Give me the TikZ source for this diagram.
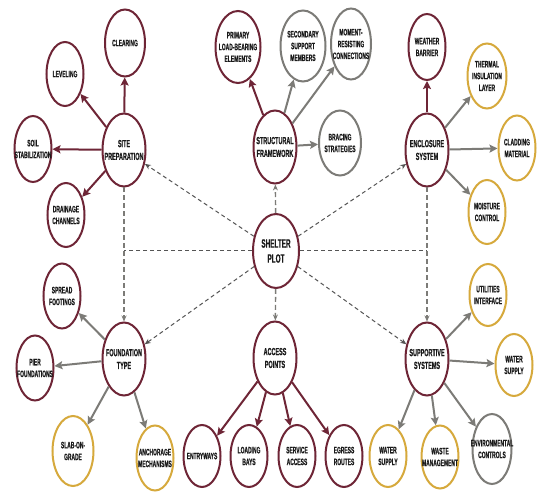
\documentclass[tikz,border=0pt]{standalone}
\usepackage{fontspec}
\setmainfont{Liberation Sans}[FakeStretch=0.53, BoldFeatures={FakeStretch=0.53, FakeBold=0.6}]
\usetikzlibrary{shapes.geometric,arrows.meta}
\definecolor{plum}{HTML}{6E2536}
\definecolor{sand}{HTML}{D6A93C}
\definecolor{ash}{HTML}{7C7B77}
\definecolor{ink}{HTML}{1A1A1A}
\definecolor{dashgray}{HTML}{555555}
\begin{document}
\begin{tikzpicture}[x=1pt, y=-1pt,
			bubble/.style={shape=ellipse, draw=plum, line width=2pt, fill=white, text=ink, align=center,
				inner xsep=-10pt, inner ysep=0pt, minimum width=37pt, minimum height=64pt,
				font=\bfseries\fontsize{9.3}{11.8}\selectfont},
			hub/.style={bubble, minimum width=43pt, minimum height=73pt, font=\bfseries\fontsize{10.3}{12.8}\selectfont},
			root/.style={hub, minimum width=46pt, minimum height=74pt, font=\bfseries\fontsize{12}{15}\selectfont},
			greyring/.style={draw=ash},
			goldring/.style={draw=sand},
			redarrow/.style={draw=plum, line width=2pt, -{Stealth[length=8pt,width=8pt,inset=1.5pt]}},
			greyarrow/.style={redarrow, draw=ash},
			link/.style={draw=dashgray, line width=1pt, dash pattern=on 4pt off 3pt, -{Stealth[length=6pt,width=5pt]}},
			vlink/.style={link, draw=ash, line width=1.4pt, dash pattern=on 5pt off 3pt}]
			
			\fill[white] (0,0) rectangle (550,500);
			\useasboundingbox (0,0) rectangle (550,500);
			
			% centre
			\node[root] (shelter) at (276,251) {SHELTER\\PLOT};
			
			% site preparation
			\node[hub] (site) at (124,150) {SITE\\PREPARATION};
			\node[bubble, minimum width=40pt, minimum height=67pt] (clearing) at (125,43) {CLEARING};
			\node[bubble] (leveling) at (65,74) {LEVELING};
			\node[bubble, minimum height=66pt] (soil) at (33,149) {SOIL\\STABILIZATION};
			\node[bubble] (drainage) at (66,215) {DRAINAGE\\CHANNELS};
			
			% structural framework
			\node[hub] (frame) at (275,147) {STRUCTURAL\\FRAMEWORK};
			\node[bubble, minimum width=45pt, minimum height=72pt] (primary) at (238,47) {PRIMARY\\LOAD-BEARING\\ELEMENTS};
			\node[bubble, greyring, minimum width=45pt, minimum height=71pt] (secondary) at (303,46) {SECONDARY\\SUPPORT\\MEMBERS};
			\node[bubble, greyring, minimum width=40pt, minimum height=71pt] (moment) at (351,44) {MOMENT-\\RESISTING\\CONNECTIONS};
			\node[bubble, greyring, minimum width=42pt, minimum height=65pt] (bracing) at (340,143) {BRACING\\STRATEGIES};
			
			% enclosure system
			\node[hub] (enclosure) at (427,150) {ENCLOSURE\\SYSTEM};
			\node[bubble, minimum height=66pt] (weather) at (427,47) {WEATHER\\BARRIER};
			\node[bubble, goldring, minimum width=39pt, minimum height=65pt] (thermal) at (487,76) {THERMAL\\INSULATION\\LAYER};
			\node[bubble, goldring, minimum height=65pt] (cladding) at (517,148) {CLADDING\\MATERIAL};
			\node[bubble, goldring] (moisture) at (487,212) {MOISTURE\\CONTROL};
			
			% foundation type
			\node[hub] (foundation) at (124,359) {FOUNDATION\\TYPE};
			\node[bubble, minimum height=65pt] (spread) at (62,296) {SPREAD\\FOOTINGS};
			\node[bubble, minimum height=65pt] (pier) at (35,368) {PIER\\FOUNDATIONS};
			\node[bubble, goldring, minimum width=41pt, minimum height=70pt] (slab) at (73,451) {SLAB-ON-\\GRADE};
			\node[bubble, goldring, minimum height=65pt] (anchorage) at (155,458) {ANCHORAGE\\MECHANISMS};
			
			% access points
			\node[hub] (access) at (275,358) {ACCESS\\POINTS};
			\node[bubble, minimum height=62pt] (entry) at (202,456) {ENTRYWAYS};
			\node[bubble, minimum height=62pt] (loading) at (249,456) {LOADING\\BAYS};
			\node[bubble, minimum height=62pt] (service) at (297,456) {SERVICE\\ACCESS};
			\node[bubble, minimum height=62pt] (egress) at (344,456) {EGRESS\\ROUTES};
			
			% supportive systems
			\node[hub] (support) at (427,359) {SUPPORTIVE\\SYSTEMS};
			\node[bubble, goldring, minimum height=62pt] (utilities) at (488,295) {UTILITIES\\INTERFACE};
			\node[bubble, goldring, minimum height=62pt] (waterright) at (514,365) {WATER\\SUPPLY};
			\node[bubble, goldring, minimum height=62pt] (waterbottom) at (388,456) {WATER\\SUPPLY};
			\node[bubble, goldring, minimum height=63pt] (waste) at (440,457) {WASTE\\MANAGEMENT};
			\node[bubble, greyring, minimum width=39pt, minimum height=70pt] (environ) at (492,449) {ENVIRONMENTAL\\CONTROLS};
			
			% dashed links from the centre
			\draw[link] (shelter) -- (site);
			\draw[link] (shelter) -- (enclosure);
			\draw[link] (shelter) -- (foundation);
			\draw[link] (shelter) -- (support);
			\draw[vlink] (shelter) -- (frame);
			\draw[vlink] (shelter) -- (access);
			\draw[vlink] (site) -- (foundation);
			\draw[vlink] (enclosure) -- (support);
			\coordinate (westjoin) at (site.south |- shelter.west);
			\coordinate (eastjoin) at (enclosure.south |- shelter.east);
			\draw[link, -] (shelter.west) -- (westjoin);
			\draw[link, -] (shelter.east) -- (eastjoin);
			
			% solid arrows
			\draw[redarrow] (site) -- (clearing);
			\draw[redarrow] (site) -- (leveling);
			\draw[redarrow] (site) -- (soil);
			\draw[redarrow] (site) -- (drainage);
			\draw[redarrow] (frame) -- (primary);
			\draw[greyarrow] (frame) -- (secondary);
			\draw[greyarrow] (frame) -- (moment);
			\draw[greyarrow] (frame) -- (bracing);
			\draw[redarrow] (enclosure) -- (weather);
			\draw[greyarrow] (enclosure) -- (thermal);
			\draw[greyarrow] (enclosure) -- (cladding);
			\draw[greyarrow] (enclosure) -- (moisture);
			\draw[greyarrow] (foundation) -- (spread);
			\draw[greyarrow] (foundation) -- (pier);
			\draw[greyarrow] (foundation) -- (slab);
			\draw[greyarrow] (foundation) -- (anchorage);
			\draw[redarrow] (access) -- (entry);
			\draw[redarrow] (access) -- (loading);
			\draw[redarrow] (access) -- (service);
			\draw[redarrow] (access) -- (egress);
			\draw[greyarrow] (support) -- (utilities);
			\draw[greyarrow] (support) -- (waterright);
			\draw[greyarrow] (support) -- (waterbottom);
			\draw[greyarrow] (support) -- (waste);
			\draw[greyarrow] (support) -- (environ);
			\end{tikzpicture}
\end{document}
